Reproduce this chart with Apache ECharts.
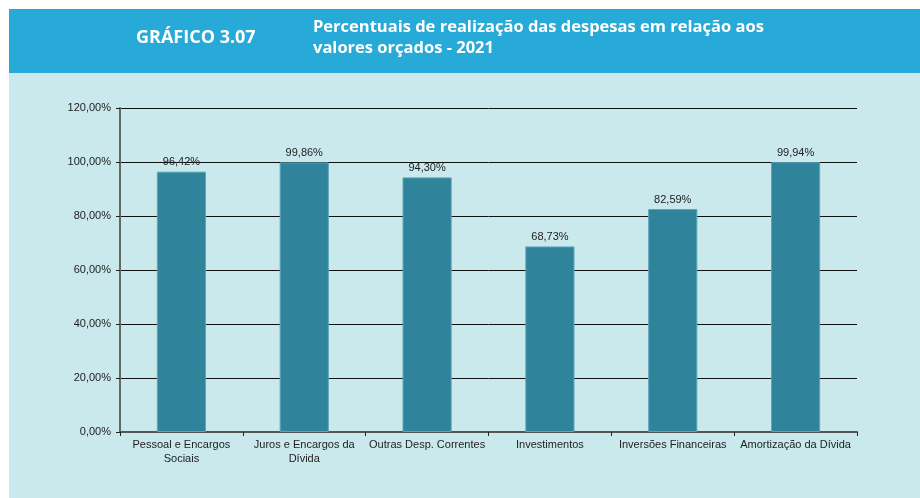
<!DOCTYPE html>
<html>
<head>
<meta charset="utf-8">
<script src="https://cdn.jsdelivr.net/npm/echarts@6/dist/echarts.min.js"></script>
<style>
  html, body { margin: 0; padding: 0; background: #fff; }
  #chart { width: 920px; height: 498px; }
</style>
</head>
<body>
<div id="chart"></div>
<script>
const categories = [
  'Pessoal e Encargos\nSociais',
  'Juros e Encargos da\nDívida',
  'Outras Desp. Correntes',
  'Investimentos',
  'Inversões Financeiras',
  'Amortização da Dívida'
]
const realizacao = [96.42, 99.86, 94.30, 68.73, 82.59, 99.94]

const fmtPct = v => v.toFixed(2).replace('.', ',') + '%'

const chart = echarts.init(document.getElementById('chart'))

chart.setOption({
  animation: false,
  backgroundColor: '#fff',
  graphic: [
    // fundo claro
    { type: 'rect', z: -10, shape: { x: 9, y: 73, width: 911, height: 425 }, style: { fill: '#c9e9ed' } },
    // faixa do título
    { type: 'rect', z: -10, shape: { x: 9, y: 9, width: 911, height: 64 }, style: { fill: '#27aad8' } },
    {
      type: 'text', left: 136, top: 29,
      style: { text: 'GRÁFICO 3.07', fill: '#fff', font: 'bold 18px "Open Sans", sans-serif' }
    },
    {
      type: 'text', left: 313, top: 17,
      style: {
        text: 'Percentuais de realização das despesas em relação aos\nvalores orçados - 2021',
        fill: '#fff', font: 'bold 16.5px "Open Sans", sans-serif', lineHeight: 21
      }
    }
  ],
  grid: { left: 120, right: 63, top: 108, bottom: 66 },
  xAxis: {
    type: 'category',
    data: categories,
    axisLine: { lineStyle: { color: '#555', width: 2 } },
    axisTick: { show: true, length: 4, lineStyle: { color: '#222' } },
    axisLabel: {
      color: '#222', fontSize: 11, fontFamily: '"Liberation Sans", Arial, sans-serif',
      interval: 0, margin: 6, lineHeight: 14
    }
  },
  yAxis: {
    type: 'value',
    min: 0,
    max: 120,
    interval: 20,
    axisLine: { show: true, lineStyle: { color: '#666', width: 2 } },
    axisTick: { show: true, length: 4, lineStyle: { color: '#222' } },
    axisLabel: {
      color: '#222', fontSize: 11, fontFamily: '"Liberation Sans", Arial, sans-serif',
      margin: 9, formatter: v => fmtPct(v)
    },
    splitLine: { lineStyle: { color: '#111', width: 1 } }
  },
  series: [
    {
      type: 'bar',
      data: realizacao,
      barWidth: '40%',
      itemStyle: { color: '#2f839b', borderColor: '#5ba6b9', borderWidth: 1 },
      label: {
        show: true,
        position: 'top',
        distance: 4,
        color: '#222',
        fontSize: 11,
        fontFamily: '"Liberation Sans", Arial, sans-serif',
        formatter: p => fmtPct(p.value)
      }
    }
  ]
})
</script>
</body>
</html>
